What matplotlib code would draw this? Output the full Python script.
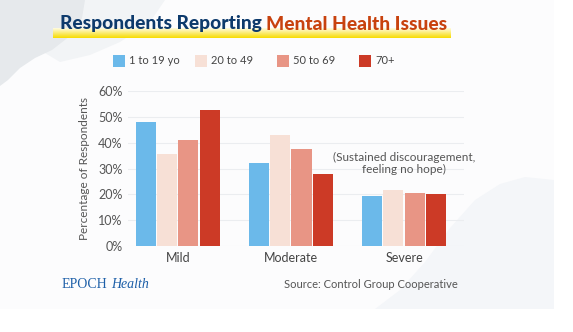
import matplotlib
matplotlib.use("Agg")
import matplotlib.pyplot as plt
import numpy as np
from matplotlib.patches import Polygon, Rectangle
from matplotlib.colors import LinearSegmentedColormap

plt.rcParams['font.family'] = ['Lato', 'DejaVu Sans']

# data
categories = ["Mild", "Moderate", "Severe"]
groups = ["1 to 19 yo", "20 to 49", "50 to 69", "70+"]
age_1_19 = [48, 32, 19.3]
age_20_49 = [35.5, 43, 21.7]
age_50_69 = [41.2, 37.6, 20.6]
age_70 = [52.5, 27.8, 20.2]
series = [age_1_19, age_20_49, age_50_69, age_70]
colors = ["#6bb9ea", "#f7e0d6", "#e89585", "#cc3a26"]
yticks = [0, 10, 20, 30, 40, 50, 60]

W, H = 573, 332
fig = plt.figure(figsize=(W / 100, H / 100), dpi=100)
fig.patch.set_facecolor("white")

# background card + decorative blobs
bg = fig.add_axes([0, 0, 1, 1], zorder=-10)
bg.set_xlim(0, W)
bg.set_ylim(H, 0)
bg.axis("off")
bg.add_patch(Rectangle((0, 0), 554, 309, color="#fcfcfd", lw=0))
bg.add_patch(Polygon([(85, 0), (165, 0), (150, 22), (120, 42), (90, 55), (60, 62), (40, 50)],
                     closed=True, color="#f2f4f6", lw=0))
bg.add_patch(Polygon([(0, 0), (85, 0), (82, 18), (70, 36), (52, 50), (35, 58), (20, 68),
                      (8, 80), (0, 86)], closed=True, color="#e6e9ec", lw=0))
bg.add_patch(Polygon([(375, 309), (400, 290), (425, 262), (450, 228), (475, 200), (500, 184),
                      (525, 177), (554, 180), (554, 309)], closed=True, color="#f4f6f9", lw=0))

# yellow underline with gradient
band = fig.add_axes([53 / W, 1 - 38 / H, (450 - 53) / W, 10 / H], zorder=-5)
grad = np.linspace(0, 1, 50).reshape(-1, 1)
cm = LinearSegmentedColormap.from_list("y", ["#fffbe0", "#f7dc00"])
band.imshow(grad, aspect="auto", cmap=cm, extent=[0, 1, 0, 1], origin="upper")
band.axis("off")

fig.text(262 / W, 1 - 24 / H, "Respondents Reporting", ha="right", va="center",
         fontsize=13.8, fontweight="black", color="#0d3a6c")
fig.text(266 / W, 1 - 24 / H, "Mental Health Issues", ha="left", va="center",
         fontsize=13.8, fontweight="black", color="#c8420e")

# legend
leg_x = 113
for i, (g, c) in enumerate(zip(groups, colors)):
    x0 = leg_x + i * 82
    bg.add_patch(Rectangle((x0, 55), 12, 12, color=c, lw=0))
    bg.text(x0 + 16, 61, g, va="center", ha="left", fontsize=8, color="#444444")

# main axes
ax = fig.add_axes([128 / W, 1 - 246 / H, (464 - 128) / W, (246 - 91) / H])
ax.set_facecolor("none")
x = np.arange(len(categories))
w = 0.178
for i, (vals, c) in enumerate(zip(series, colors)):
    ax.bar(x + (i - 1.5) * (w + 0.01), vals, width=w, color=c, zorder=3)

ax.set_xlim(-0.44, 2.53)
ax.set_ylim(0, 60)
ax.set_yticks(yticks)
ax.set_yticklabels([f"{t}%" for t in yticks], fontsize=9, color="#555555")
ax.set_xticks(x)
ax.set_xticklabels(categories, fontsize=9, color="#444444")
ax.tick_params(length=0, pad=4)
ax.grid(axis="y", color="#ebedf0", lw=0.8, zorder=0)
for s in ax.spines.values():
    s.set_visible(False)
ax.set_ylabel("Percentage of Respondents", fontsize=8.5, color="#555555", labelpad=6)

ax.text(2, 27.5, "(Sustained discouragement,\nfeeling no hope)", ha="center", va="bottom",
        fontsize=8.5, color="#555555", linespacing=1.1)

# footer
t1 = fig.text(62 / W, 1 - 284 / H, "EPOCH", fontsize=10, family="Liberation Serif",
              color="#1d5fa8", va="center", ha="left")
fig.canvas.draw()
ext = t1.get_window_extent()
fig.text(ext.x1 / W + 3 / W, 1 - 284 / H, "Health", fontsize=10, family="Liberation Serif",
         style="italic", color="#1d5fa8", va="center", ha="left")
fig.text(284 / W, 1 - 284 / H, "Source: Control Group Cooperative", fontsize=8,
         color="#555555", va="center", ha="left")

fig.savefig("out.png", dpi=100)
